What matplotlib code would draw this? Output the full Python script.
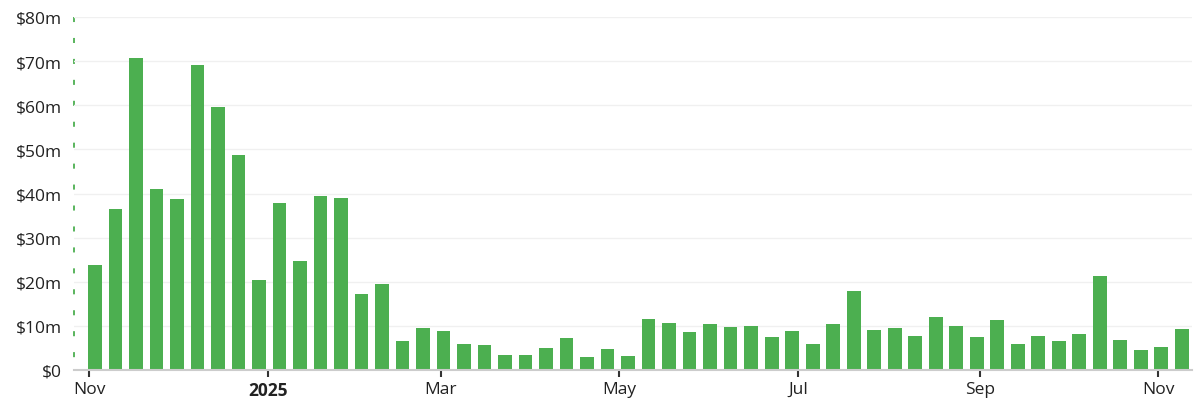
import matplotlib
matplotlib.use('agg')
import matplotlib.pyplot as plt
import pandas as pd
from matplotlib.ticker import FuncFormatter

# weekly volume, $ millions
weeks = pd.date_range('2024-11-03', periods=54, freq='7D')
volume_m = [23.8, 36.6, 70.6, 41.0, 38.8, 69.2, 59.5, 48.7, 20.4, 37.9,
            24.8, 39.4, 38.9, 17.2, 19.5, 6.5, 9.5, 8.8, 6.0, 5.6,
            3.3, 3.4, 4.9, 7.2, 2.9, 4.7, 3.1, 11.5, 10.6, 8.5,
            10.4, 9.8, 10.0, 7.4, 8.9, 6.0, 10.4, 17.8, 9.0, 9.6,
            7.6, 12.1, 9.9, 7.4, 11.3, 5.9, 7.8, 6.6, 8.1, 21.3,
            6.7, 4.5, 5.1, 9.2]
tick_dates = pd.to_datetime(['2024-11-01', '2025-01-01', '2025-03-01', '2025-05-01',
                             '2025-07-01', '2025-09-01', '2025-11-01'])
tick_labels = ['Nov', '2025', 'Mar', 'May', 'Jul', 'Sep', 'Nov']

plt.rcParams['font.family'] = ['Open Sans', 'DejaVu Sans']

fig = plt.figure(figsize=(12, 4.14), dpi=100)
ax = fig.add_axes([74 / 1200, 1 - 371 / 414, (1191.7 - 74) / 1200, (371 - 18) / 414])

ax.bar(weeks, volume_m, width=4.67, color='#4caf50', zorder=2)

ax.set_ylim(0, 80)
ax.set_yticks(range(0, 90, 10))
ax.yaxis.set_major_formatter(FuncFormatter(lambda v, _: '$0' if v == 0 else '$%dm' % v))
ax.grid(axis='y', color='#f0f0f0', linewidth=1, zorder=0)

ax.set_xlim(pd.Timestamp('2024-10-26 19:00'), pd.Timestamp('2025-11-12 10:00'))
ax.set_xticks(tick_dates)
ax.set_xticklabels(tick_labels)
for lbl in ax.get_xticklabels():
    if lbl.get_text() == '2025':
        lbl.set_fontweight('bold')

ax.tick_params(axis='x', length=5, width=1.5, color='#333333', labelsize=12.5,
               labelcolor='#222222', pad=3)
ax.tick_params(axis='y', length=0, labelsize=12.5, labelcolor='#222222', pad=8.5)

for side in ['top', 'right', 'left']:
    ax.spines[side].set_visible(False)
ax.spines['bottom'].set_color('#cccccc')
ax.spines['bottom'].set_linewidth(1.5)

# green dashed left axis line, drawn top-down so the dashes start at the top
ax.plot([0, 0], [1, 0], transform=ax.transAxes, color='#4caf50', linewidth=1.3,
        linestyle=(0, (2.8, 8.8)), clip_on=False, zorder=1)

fig.savefig('out.png', dpi=100)
